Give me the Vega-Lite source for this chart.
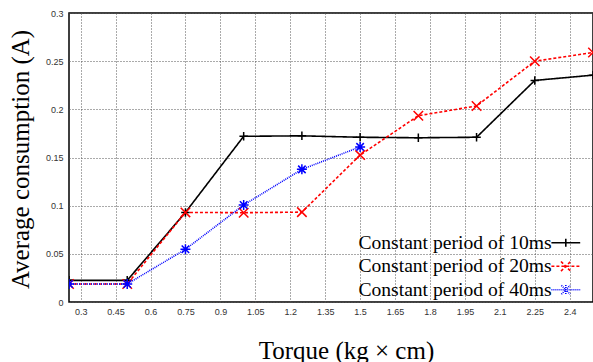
{
  "$schema": "https://vega.github.io/schema/vega-lite/v6.json",
  "width": 524,
  "height": 289,
  "autosize": {"type": "none"},
  "padding": {"left": 69, "top": 13, "right": 0, "bottom": 60},
  "background": "white",
  "config": {
    "view": {"stroke": "black", "strokeWidth": 1.5},
    "axis": {
      "labelFont": "Liberation Sans",
      "labelFontSize": 9,
      "labelColor": "#333",
      "domain": false,
      "ticks": false,
      "tickSize": 0,
      "gridColor": "#555",
      "gridDash": [1, 2],
      "gridWidth": 1,
      "titleFont": "Liberation Serif",
      "titleFontWeight": "normal",
      "titleColor": "black"
    }
  },
  "data": {
    "values": [
      {"series": "Constant period of 10ms", "torque": 0.25, "current": 0.0225},
      {"series": "Constant period of 10ms", "torque": 0.5, "current": 0.0225},
      {"series": "Constant period of 10ms", "torque": 0.75, "current": 0.093},
      {"series": "Constant period of 10ms", "torque": 1.0, "current": 0.172},
      {"series": "Constant period of 10ms", "torque": 1.25, "current": 0.1725},
      {"series": "Constant period of 10ms", "torque": 1.5, "current": 0.171},
      {"series": "Constant period of 10ms", "torque": 1.75, "current": 0.1705},
      {"series": "Constant period of 10ms", "torque": 2.0, "current": 0.171},
      {"series": "Constant period of 10ms", "torque": 2.25, "current": 0.230},
      {"series": "Constant period of 10ms", "torque": 2.5, "current": 0.2355},
      {"series": "Constant period of 20ms", "torque": 0.25, "current": 0.0187},
      {"series": "Constant period of 20ms", "torque": 0.5, "current": 0.0187},
      {"series": "Constant period of 20ms", "torque": 0.75, "current": 0.093},
      {"series": "Constant period of 20ms", "torque": 1.0, "current": 0.0927},
      {"series": "Constant period of 20ms", "torque": 1.25, "current": 0.0933},
      {"series": "Constant period of 20ms", "torque": 1.5, "current": 0.1525},
      {"series": "Constant period of 20ms", "torque": 1.75, "current": 0.1934},
      {"series": "Constant period of 20ms", "torque": 2.0, "current": 0.2035},
      {"series": "Constant period of 20ms", "torque": 2.25, "current": 0.250},
      {"series": "Constant period of 20ms", "torque": 2.5, "current": 0.259},
      {"series": "Constant period of 40ms", "torque": 0.25, "current": 0.0187},
      {"series": "Constant period of 40ms", "torque": 0.5, "current": 0.0187},
      {"series": "Constant period of 40ms", "torque": 0.75, "current": 0.0547},
      {"series": "Constant period of 40ms", "torque": 1.0, "current": 0.1007},
      {"series": "Constant period of 40ms", "torque": 1.25, "current": 0.1377},
      {"series": "Constant period of 40ms", "torque": 1.5, "current": 0.161}
    ]
  },
  "encoding": {
    "x": {
      "field": "torque",
      "type": "quantitative",
      "scale": {"domain": [0.25, 2.5], "nice": false, "zero": false},
      "axis": {
        "values": [0.3, 0.45, 0.6, 0.75, 0.9, 1.05, 1.2, 1.35, 1.5, 1.65, 1.8, 1.95, 2.1, 2.25, 2.4],
        "labelExpr": "format(datum.value, '~g')",
        "labelPadding": 5,
        "title": "Torque  (kg × cm)",
        "titleFontSize": 25,
        "titleX": 277,
        "titleY": 56,
        "titleBaseline": "alphabetic"
      }
    },
    "y": {
      "field": "current",
      "type": "quantitative",
      "scale": {"domain": [0, 0.3], "nice": false},
      "axis": {
        "values": [0, 0.05, 0.1, 0.15, 0.2, 0.25, 0.3],
        "labelExpr": "format(datum.value, '~g')",
        "labelPadding": 6,
        "title": "Average consumption (A)",
        "titleFontSize": 25,
        "titleX": -41,
        "titleY": 146,
        "titleBaseline": "alphabetic"
      }
    },
    "color": {
      "field": "series",
      "type": "nominal",
      "scale": {
        "domain": ["Constant period of 10ms", "Constant period of 20ms", "Constant period of 40ms"],
        "range": ["#000000", "#ff0000", "#0000ff"]
      },
      "legend": {
        "orient": "none",
        "legendX": 487,
        "legendY": 220,
        "title": null,
        "labelFont": "Liberation Serif",
        "labelFontSize": 19.6,
        "labelColor": "black",
        "labelAlign": "right",
        "labelOffset": -24,
        "labelLimit": 400,
        "rowPadding": 2.5,
        "symbolSize": 64,
        "symbolStrokeWidth": 1.5,
        "symbolType": "M-3.6,0H3.6M0,-1V1",
        "encode": {
          "symbols": {
            "update": {
              "shape": {"signal": "datum.value === 'Constant period of 10ms' ? 'M-3.6,0H3.6M0,-1V1' : datum.value === 'Constant period of 20ms' ? 'M-3.6,0H3.6M-1.2,-1.2L1.2,1.2M-1.2,1.2L1.2,-1.2' : 'M-3.6,0H3.6M0,-1.2V1.2M-1.1,-1.1L1.1,1.1M-1.1,1.1L1.1,-1.1'"},
              "strokeDash": {"signal": "datum.value === 'Constant period of 20ms' ? [3,2] : datum.value === 'Constant period of 40ms' ? [1,1] : [1,0]"},
              "fill": {"value": "transparent"},
              "strokeWidth": {"value": 1.5}
            }
          }
        }
      }
    }
  },
  "layer": [
    {
      "mark": {"type": "line", "clip": true},
      "encoding": {
        "strokeDash": {
          "field": "series",
          "type": "nominal",
          "scale": {
            "domain": ["Constant period of 10ms", "Constant period of 20ms", "Constant period of 40ms"],
            "range": [[1, 0], [3, 2], [1, 1]]
          },
          "legend": null
        },
        "strokeWidth": {
          "field": "series",
          "type": "nominal",
          "scale": {
            "domain": ["Constant period of 10ms", "Constant period of 20ms", "Constant period of 40ms"],
            "range": [1.6, 1.6, 1]
          },
          "legend": null
        }
      }
    },
    {
      "transform": [{"filter": "datum.series === 'Constant period of 10ms'"}],
      "mark": {"type": "point", "filled": false, "size": 72, "strokeWidth": 1.5, "opacity": 1, "clip": true, "shape": "M-1,0H1M0,-1V1"}
    },
    {
      "transform": [{"filter": "datum.series === 'Constant period of 20ms'"}],
      "mark": {"type": "point", "filled": false, "size": 90, "strokeWidth": 1.5, "opacity": 1, "clip": true, "shape": "M-1,-1L1,1M-1,1L1,-1"}
    },
    {
      "transform": [{"filter": "datum.series === 'Constant period of 40ms'"}],
      "mark": {"type": "point", "filled": false, "size": 100, "strokeWidth": 1.5, "opacity": 1, "clip": true, "shape": "M-1,0H1M0,-1V1M-0.75,-0.75L0.75,0.75M-0.75,0.75L0.75,-0.75"}
    }
  ]
}
